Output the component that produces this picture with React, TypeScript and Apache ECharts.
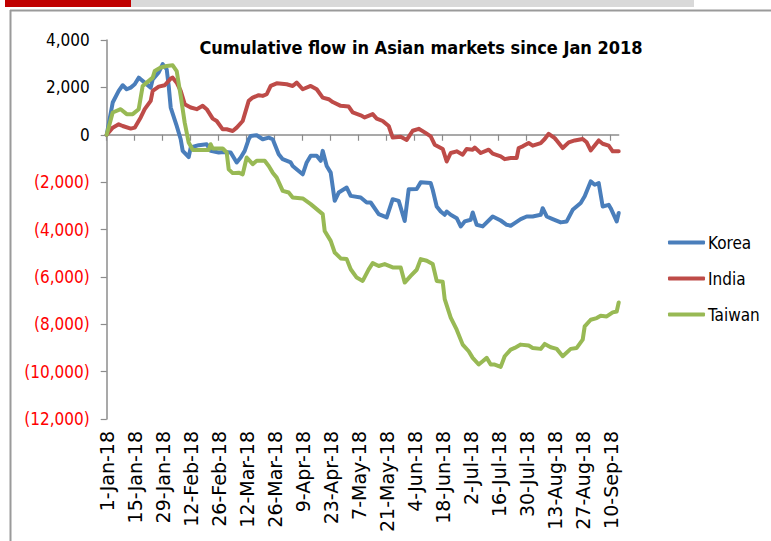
import React, { useEffect, useRef } from "react";
import * as echarts from "echarts";

const seriesNames = ["Korea", "India", "Taiwan"];
const seriesColors = ["#4A7EBB", "#BE4B48", "#98B954"];

const koreaDays = [0,3,6,8,10,12,14,16,17,19,22,23,26,28,30,31,32,35,37,38,41,42,46,50,52,56,59,62,65,67,69,71,72,75,78,81,83,86,88,92,93,96,98,100,102,105,107,108,110,112,114,116,120,122,127,130,132,136,140,143,146,149,151,155,157,162,163,165,167,169,170,172,175,177,179,182,183,185,188,193,197,200,202,204,207,210,213,217,218,220,223,227,230,233,237,239,242,244,246,248,251,252,255,256];
const koreaFlow = [0,1360,1850,2090,1920,1990,2130,2410,2340,2200,1990,2340,2630,2980,2760,2060,1150,370,-190,-680,-940,-540,-440,-400,-680,-750,-730,-750,-1170,-960,-680,-190,-50,-20,-190,-120,-190,-820,-1030,-1170,-1320,-1530,-1670,-1170,-890,-890,-1100,-680,-1320,-1600,-2790,-2440,-2230,-2580,-2650,-2860,-2860,-3350,-3490,-2720,-2790,-3640,-2300,-2290,-2010,-2040,-2320,-3030,-3240,-3380,-3240,-3380,-3520,-3870,-3660,-3590,-3280,-3800,-3870,-3450,-3620,-3800,-3840,-3730,-3560,-3450,-3450,-3380,-3100,-3450,-3560,-3700,-3660,-3170,-2880,-2600,-1970,-2110,-2040,-3030,-2960,-3100,-3660,-3300];

const indiaDays = [0,3,6,8,12,14,17,19,22,23,26,29,32,33,35,37,39,42,45,48,50,53,55,58,60,63,65,68,71,73,76,78,80,82,85,90,93,95,98,102,105,108,111,113,117,121,123,127,129,133,135,138,141,143,147,150,153,156,159,162,164,168,170,172,175,178,180,183,184,187,191,193,197,199,202,205,206,208,211,213,217,219,221,224,228,231,234,238,240,242,243,246,248,251,253,256];
const indiaFlow = [0,300,440,370,260,300,730,1080,1430,1850,2030,2090,2370,2410,2200,1850,1290,1150,1080,1220,1080,680,580,230,230,160,300,580,1430,1570,1670,1640,1710,2060,2170,2130,2060,2200,1920,2060,1920,1570,1500,1380,1220,1190,940,820,730,870,680,580,370,-120,-80,-220,170,250,100,-70,-420,-600,-1130,-770,-700,-840,-600,-630,-540,-770,-630,-800,-910,-1030,-980,-980,-560,-490,-350,-460,-350,-180,40,-140,-560,-320,-240,-180,-320,-660,-560,-240,-380,-460,-700,-700];

const taiwanDays = [0,3,7,10,13,16,18,20,23,24,27,30,33,35,37,39,41,43,47,51,52,53,58,60,61,63,66,68,70,73,75,79,81,83,85,88,91,93,98,102,105,108,109,112,114,117,120,122,125,128,131,133,136,139,143,147,149,152,155,157,160,163,165,168,169,172,175,178,181,183,186,188,190,192,194,197,199,202,204,207,211,213,217,219,222,225,228,232,235,238,239,242,245,247,250,253,255,256];
const taiwanFlow = [0,940,1080,870,870,1080,2060,2200,2410,2690,2840,2900,2930,2690,1640,510,-330,-640,-640,-640,-400,-580,-580,-750,-1460,-1620,-1600,-1670,-960,-1240,-1100,-1100,-1320,-1600,-1810,-2370,-2440,-2650,-2690,-2930,-3140,-3350,-4060,-4480,-4970,-5220,-5250,-5680,-6030,-6170,-5680,-5420,-5540,-5460,-5600,-5600,-6240,-5960,-5700,-5250,-5320,-5460,-6170,-6210,-6940,-7720,-8230,-8860,-9140,-9420,-9700,-9560,-9420,-9700,-9700,-9800,-9350,-9070,-9000,-8860,-8900,-9000,-9040,-8830,-8970,-9040,-9350,-9040,-9000,-8650,-8090,-7810,-7740,-7640,-7670,-7500,-7460,-7080];

const tickDays = [0,14,28,42,56,70,84,98,112,126,140,154,168,182,196,210,224,238,252];
const tickLabels = ["1-Jan-18","15-Jan-18","29-Jan-18","12-Feb-18","26-Feb-18","12-Mar-18","26-Mar-18","9-Apr-18","23-Apr-18","7-May-18","21-May-18","4-Jun-18","18-Jun-18","2-Jul-18","16-Jul-18","30-Jul-18","13-Aug-18","27-Aug-18","10-Sep-18"];

const yMin = -12000;
const yMax = 4000;
const yStep = 2000;
const xMax = 256;

export default function App() {
  const ref = useRef<HTMLDivElement>(null);

  useEffect(() => {
    if (!ref.current) return;
    const chart = echarts.init(ref.current, null, { renderer: "svg" });
    const condensed = "'DejaVu Sans Condensed', 'DejaVu Sans', sans-serif";
    const dayLists = [koreaDays, indiaDays, taiwanDays];
    const valueLists = [koreaFlow, indiaFlow, taiwanFlow];

    const fmtY = (v: any) => {
      const n = Number(v);
      const s = Math.abs(n).toLocaleString("en-US");
      return n < 0 ? `(${s})` : s;
    };

    chart.setOption({
      animation: false,
      backgroundColor: "#ffffff",
      title: {
        text: "Cumulative flow in Asian markets since Jan 2018",
        left: 416,
        top: 33,
        textAlign: "center",
        textStyle: {
          fontFamily: condensed,
          fontWeight: "bold",
          fontSize: 18,
          color: "#000000",
        },
      },
      legend: {
        orient: "vertical",
        left: 668,
        top: 234,
        itemWidth: 37,
        itemHeight: 4,
        itemGap: 19,
        icon: "roundRect",
        padding: 0,
        data: seriesNames,
        textStyle: {
          fontFamily: condensed,
          fontSize: 17,
          color: "#000000",
          padding: [0, 0, 0, -2],
        },
      },
      graphic: [
        { type: "rect", shape: { x: 5, y: 0, width: 126, height: 7 }, style: { fill: "#C00000" } },
        { type: "rect", shape: { x: 131, y: 0, width: 563, height: 7 }, style: { fill: "#D9D9D9" } },
        { type: "line", shape: { x1: 10, y1: 10.5, x2: 771, y2: 10.5 }, style: { stroke: "#9a9a9a", lineWidth: 2 } },
        { type: "line", shape: { x1: 10.5, y1: 10, x2: 10.5, y2: 541 }, style: { stroke: "#9a9a9a", lineWidth: 2 } },
      ],
      grid: { left: 106.7, top: 40, width: 512, height: 379, containLabel: false },
      xAxis: [
        {
          type: "value",
          min: 0,
          max: xMax,
          position: "bottom",
          axisLine: { onZero: true, lineStyle: { color: "#8c8c8c", width: 1.5 } },
          axisTick: { show: true, length: 6, lineStyle: { color: "#8c8c8c", width: 1.2 }, customValues: tickDays },
          axisLabel: { show: false },
          splitLine: { show: false },
        },
        {
          type: "value",
          min: 0,
          max: xMax,
          position: "bottom",
          axisLine: { show: false, onZero: false },
          axisTick: { show: false },
          splitLine: { show: false },
          axisLabel: {
            customValues: tickDays,
            rotate: 90,
            margin: 12,
            fontFamily: "'DejaVu Sans', sans-serif",
            fontSize: 19,
            color: "#000000",
            formatter: (v: any) => {
              const i = tickDays.indexOf(Number(v));
              return i >= 0 ? tickLabels[i] : "";
            },
          },
        },
      ],
      yAxis: {
        type: "value",
        min: yMin,
        max: yMax,
        interval: yStep,
        axisLine: { show: true, lineStyle: { color: "#8c8c8c", width: 1.5 } },
        axisTick: { show: true, inside: false, length: 6, lineStyle: { color: "#8c8c8c", width: 1.2 } },
        splitLine: { show: false },
        axisLabel: {
          margin: 17,
          fontFamily: condensed,
          fontSize: 17,
          color: (v: any) => (Number(v) < 0 ? "#FF0000" : "#000000"),
          formatter: fmtY,
        },
      },
      series: seriesNames.map((name, k) => ({
        name,
        type: "line",
        xAxisIndex: 0,
        showSymbol: false,
        symbol: "none",
        smooth: false,
        color: seriesColors[k],
        lineStyle: { width: 4, color: seriesColors[k], join: "round", cap: "round" },
        data: dayLists[k].map((d, i) => [d, valueLists[k][i]]),
      })),
    });

    return () => chart.dispose();
  }, []);

  return (
    <div
      ref={ref}
      style={{ position: "fixed", left: 0, top: 0, width: 771, height: 541 }}
    />
  );
}
